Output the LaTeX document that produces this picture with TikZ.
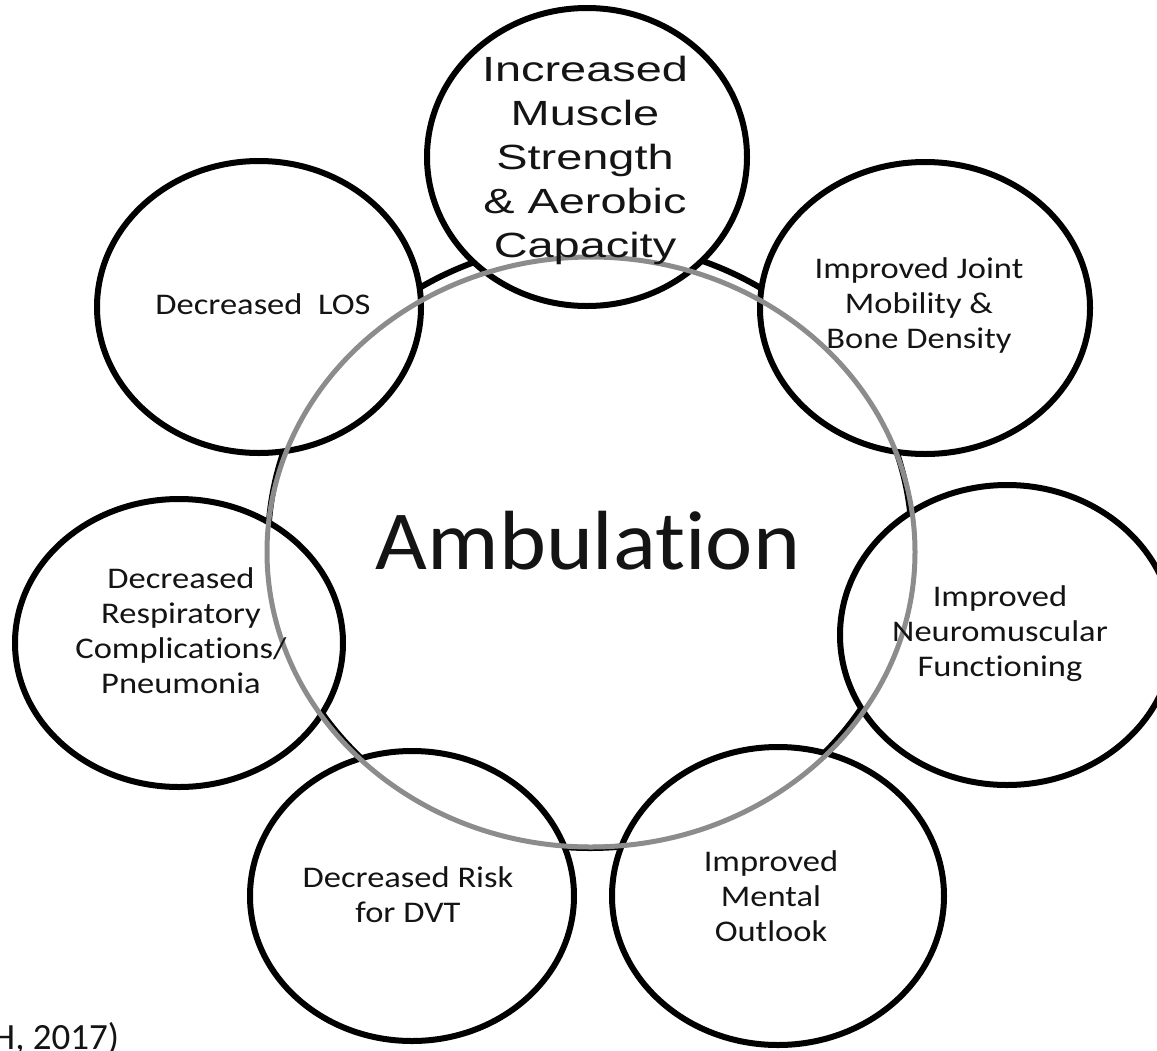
\documentclass[tikz,border=0pt]{standalone}
\usepackage{fontspec}
\setmainfont[Ligatures=NoCommon]{Carlito}
\newfontfamily\smallf[FakeStretch=1.15,Ligatures=NoCommon]{Carlito}
\newfontfamily\ambf[FakeStretch=1.065,Ligatures=NoCommon]{Carlito}
\newfontfamily\arialw[FakeStretch=1.34]{Liberation Sans}
\usetikzlibrary{shapes.geometric}
\pgfdeclarelayer{back}
\pgfdeclarelayer{mid}
\pgfdeclarelayer{grey}
\pgfsetlayers{back,mid,grey,main}
\definecolor{ringgray}{RGB}{140,140,140}
\tikzset{
  ring/.style={ellipse, draw=black, line width=6pt, inner sep=0pt},
  bubble/.style={ellipse, draw=black, fill=white, line width=6pt, inner sep=0pt},
  greyring/.style={ellipse, draw=ringgray, line width=5pt, inner sep=0pt},
  smalltxt/.style={align=center, inner sep=0pt, text=black!92, font=\smallf\fontsize{30}{35}\selectfont},
  bigtxt/.style={align=center, inner sep=0pt, text=black!92, font=\arialw\fontsize{35}{44}\selectfont},
}
\begin{document}
\begin{tikzpicture}[x=1pt,y=-1pt]
\useasboundingbox (0,0) rectangle (1157,1050);
\begin{pgfonlayer}{back}
\fill[white] (0,0) rectangle (1157,1050);
\node[ring, minimum width=644pt, minimum height=606pt] (amb) at (590,545) {};
\end{pgfonlayer}
\begin{pgfonlayer}{mid}
\node[bubble, minimum width=320pt, minimum height=298pt] (T) at (587,157) {};
\node[bubble, minimum width=330pt, minimum height=292pt] (J) at (925,308) {};
\node[bubble, minimum width=334pt, minimum height=300pt] (N) at (1007,635) {};
\node[bubble, minimum width=332pt, minimum height=298pt] (M) at (778,896) {};
\node[bubble, minimum width=324pt, minimum height=290pt] (D) at (412,896) {};
\node[bubble, minimum width=328pt, minimum height=288pt] (R) at (179,643) {};
\node[bubble, minimum width=324pt, minimum height=292pt] (L) at (259,307) {};
\end{pgfonlayer}
\begin{pgfonlayer}{grey}
\node[greyring, minimum width=648pt, minimum height=590pt] (gr) at (591,552) {};
\end{pgfonlayer}
\node[anchor=base, inner sep=0pt, text=black!92, font=\ambf\fontsize{84}{90}\selectfont] (ambt) at (588,569) {Ambulation};
\node[bigtxt] (Tt) at (585,160) {Increased\\Muscle\\Strength\\\&~Aerobic\\Capacity};
\node[smalltxt] (Jt) at (919,305.5) {Improved Joint\\Mobility \&\\Bone Density};
\node[smalltxt] (Nt) at (1000,634) {Improved\\Neuromuscular\\Functioning};
\node[smalltxt] (Mt) at (771,896.5) {Improved\\Mental\\Outlook};
\node[smalltxt] (Dt) at (408,894.5) {Decreased Risk\\for DVT};
\node[smalltxt] (Rt) at (181,631) {Decreased\\Respiratory\\Complications/\\Pneumonia};
\node[smalltxt] (Lt) at (263,304.5) {Decreased\ \ LOS};
\node[anchor=base west, inner sep=0pt, text=black!92, font=\fontsize{37}{40}\selectfont] (cite) at (-8,1049) {H, 2017)};
\end{tikzpicture}
\end{document}
